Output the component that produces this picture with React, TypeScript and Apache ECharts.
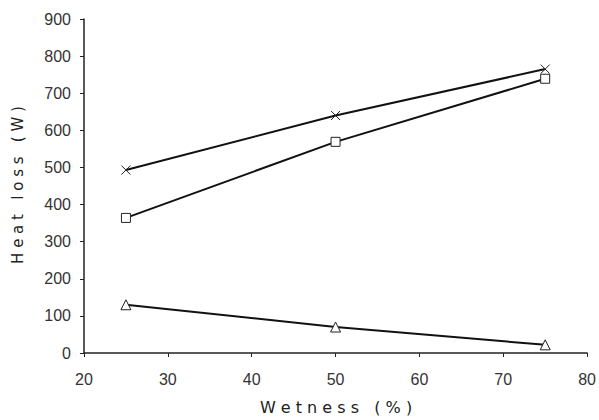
import React, { useEffect, useRef } from "react";
import * as echarts from "echarts";

const wetness = [25, 50, 75];
const crossSeries = [493, 640, 765];
const squareSeries = [364, 569, 739];
const triangleSeries = [130, 70, 22];
const xTicks = [20, 30, 40, 50, 60, 70, 80];
const yTicks = [0, 100, 200, 300, 400, 500, 600, 700, 800, 900];

const crossPath = "path://M0,0L10,10M10,0L0,10";

export default function App() {
  const ref = useRef<HTMLDivElement>(null);
  useEffect(() => {
    if (!ref.current) return;
    const chart = echarts.init(ref.current, undefined, { renderer: "svg" });
    const pair = (ys: number[]) => wetness.map((x, i) => [x, ys[i]]);
    const lineStyle = { color: "#111", width: 2 };
    chart.setOption({
      animation: false,
      backgroundColor: "#fff",
      grid: { left: 84, right: 10, top: 19, bottom: 67, containLabel: false },
      xAxis: {
        type: "value",
        min: xTicks[0],
        max: xTicks[xTicks.length - 1],
        interval: 10,
        axisLine: { show: true, lineStyle: { color: "#222", width: 1.5 } },
        axisTick: { show: true, length: 4, lineStyle: { color: "#222" } },
        splitLine: { show: false },
        axisLabel: { color: "#333", fontSize: 16, fontFamily: "Liberation Sans", margin: 18 },
      },
      yAxis: {
        type: "value",
        min: yTicks[0],
        max: yTicks[yTicks.length - 1],
        interval: 100,
        axisLine: { show: true, lineStyle: { color: "#222", width: 1.5 } },
        axisTick: { show: true, length: 4, lineStyle: { color: "#222" } },
        splitLine: { show: false },
        axisLabel: { color: "#333", fontSize: 16, fontFamily: "Liberation Sans", margin: 13 },
      },
      graphic: [
        {
          type: "text",
          x: 18,
          y: 185,
          rotation: Math.PI / 2,
          style: {
            text: "H e a t   l o s s   ( W )",
            fontSize: 15,
            fontFamily: "DejaVu Sans",
            fill: "#222",
            align: "center",
            verticalAlign: "middle",
          },
        },
        {
          type: "text",
          x: 336,
          y: 407,
          style: {
            text: "W e t n e s s   ( % )",
            fontSize: 16,
            fontFamily: "DejaVu Sans",
            fill: "#222",
            align: "center",
            verticalAlign: "middle",
          },
        },
      ],
      series: [
        {
          type: "line",
          data: pair(crossSeries),
          symbol: crossPath,
          symbolSize: 9,
          lineStyle,
          itemStyle: { color: "none", borderColor: "#222", borderWidth: 1 },
        },
        {
          type: "line",
          data: pair(squareSeries),
          symbol: "rect",
          symbolSize: 9,
          lineStyle,
          itemStyle: { color: "#fff", borderColor: "#222", borderWidth: 1 },
        },
        {
          type: "line",
          data: pair(triangleSeries),
          symbol: "triangle",
          symbolSize: 10,
          lineStyle,
          itemStyle: { color: "#fff", borderColor: "#222", borderWidth: 1 },
        },
      ],
    });
    return () => chart.dispose();
  }, []);
  return <div ref={ref} style={{ width: 599, height: 420, position: "absolute", left: 0, top: 0 }} />;
}
